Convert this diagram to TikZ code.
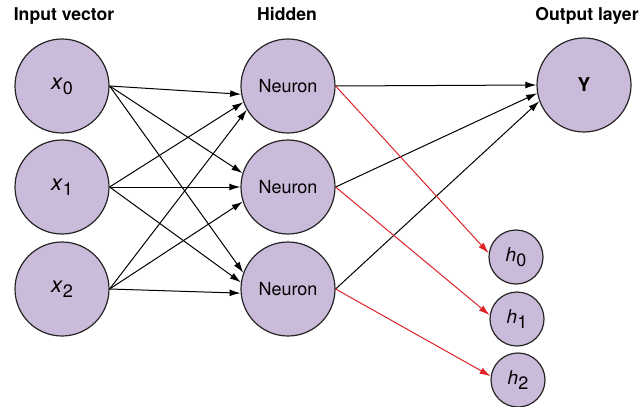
\documentclass[tikz,border=0pt]{standalone}
\usepackage{fontspec}
\setmainfont{TeX Gyre Heros}
\usetikzlibrary{arrows.meta}
\definecolor{cellfill}{RGB}{203,187,218}
\definecolor{linkred}{RGB}{222,35,40}
\newcommand{\unitlabel}[2]{\textit{#1}\raisebox{-0.45ex}{\fontsize{9}{10}\selectfont #2}}
\tikzset{
    unit/.style={circle, draw=black!85, line width=0.6pt, fill=cellfill, minimum size=47pt, inner sep=0pt, font=\fontsize{9}{10}\selectfont},
    small unit/.style={unit, minimum size=27pt},
    title/.style={font=\fontsize{8.8}{11}\selectfont\bfseries, anchor=base},
    link/.style={-{Latex[length=5.5pt,width=3.4pt]}, line width=0.5pt},
}
\begin{document}
\begin{tikzpicture}[x=0.5pt, y=-0.5pt]
    \useasboundingbox (0,0) rectangle (640,406);
    % Layer titles
    \node[title] (tin) at (64,21) {Input vector};
    \node[title] (thid) at (287,21) {Hidden};
    \node[title] (tout) at (587,21) {Output layer};
    % Units
    \foreach \i/\y in {0/86, 1/187, 2/289} {
            \node[unit, font=\fontsize{11}{12}\selectfont] (x\i) at (62,\y) {\unitlabel{x}{\i}};
            \node[unit] (n\i) at (288,\y) {Neuron};
        }
    \node[unit, font=\fontsize{9.5}{11}\selectfont\bfseries] (y) at (584,85) {Y};
    \foreach \i/\x/\y in {0/516/257, 1/517/319, 2/518/380} {
            \node[small unit, font=\fontsize{9.5}{10}\selectfont] (h\i) at (\x,\y) {\unitlabel{h}{\i}};
        }
    % Links into the hidden layer
    \foreach \t/\a/\b/\c in {0/190/200/210, 1/163/180/198, 2/160/172/185} {
            \draw[link] (x0.east) -- (n\t.\a);
            \draw[link] (x1.east) -- (n\t.\b);
            \draw[link] (x2.east) -- (n\t.\c);
        }
    % Links out of the hidden layer
    \foreach \i/\a in {0/180, 1/190, 2/200} {
            \draw[link] (n\i.east) -- (y.\a);
        }
    \foreach \i in {0,1,2} {
            \draw[link, linkred] (n\i.east) -- (h\i.172);
        }
\end{tikzpicture}
\end{document}
